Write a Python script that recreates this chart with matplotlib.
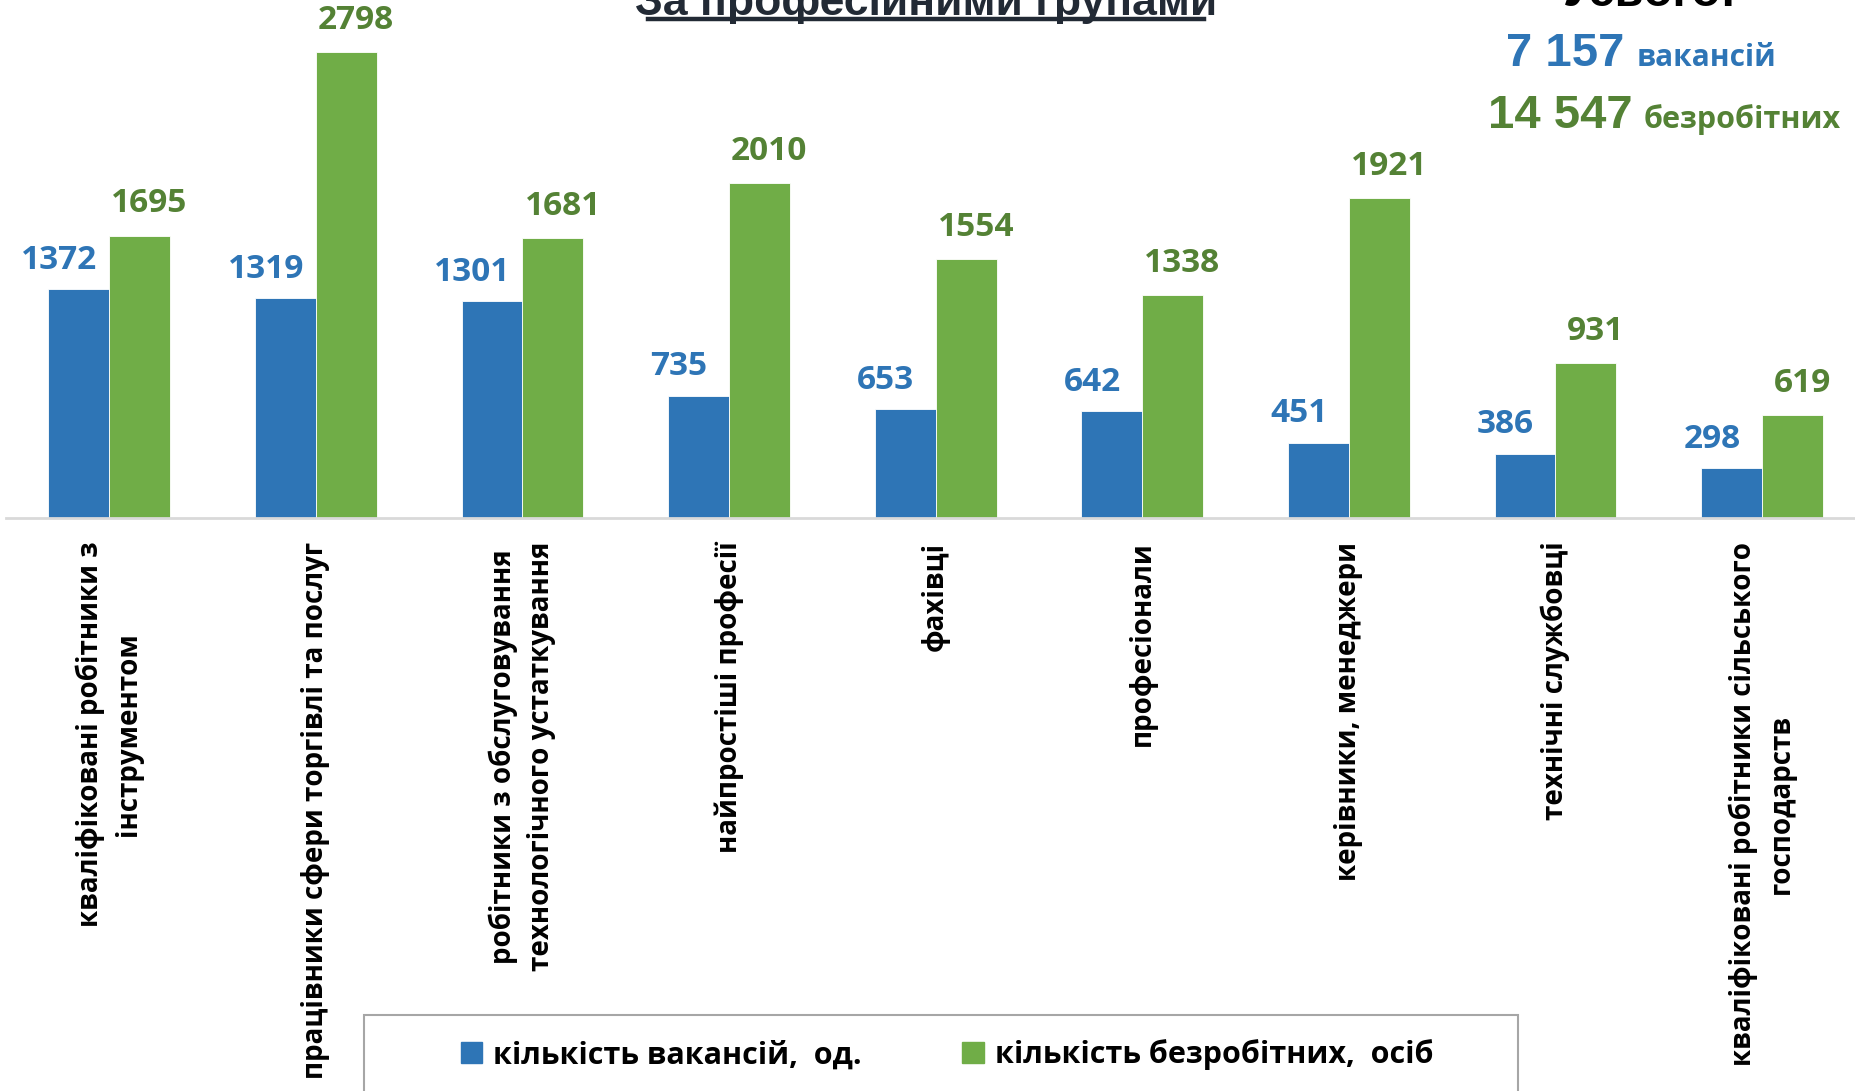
import matplotlib
matplotlib.use("Agg")

import matplotlib.pyplot as plt
from matplotlib.patches import Patch, Rectangle
from matplotlib.lines import Line2D
import numpy as np

# ---------------- data ----------------
categories = [
    "кваліфіковані робітники з\nінструментом",
    "працівники сфери торгівлі та послуг",
    "робітники з обслуговування\nтехнологічного устаткування",
    "найпростіші професії",
    "фахівці",
    "професіонали",
    "керівники, менеджери",
    "технічні службовці",
    "кваліфіковані робітники сільського\nгосподарств",
]
vacancies = [1372, 1319, 1301, 735, 653, 642, 451, 386, 298]
unemployed = [1695, 2798, 1681, 2010, 1554, 1338, 1921, 931, 619]
series_names = ["кількість вакансій,  од.", "кількість безробітних,  осіб"]
title_text = "За професійними групами"
total_head = "Усього:"
total_vacancies = "7 157"
total_unemployed = "14 547"
total_vac_word = "вакансій"
total_unemp_word = "безробітних"

BLUE = "#2E75B6"
GREEN = "#70AD47"
GREEN_TXT = "#548235"
DARK = "#222A35"

W, H = 1855, 1091
FONT = ["Open Sans", "DejaVu Sans"]
ARIAL = ["Liberation Sans", "DejaVu Sans"]


def fx(px):
    return px / W


def fy(py):
    return 1 - py / H


fig = plt.figure(figsize=(W / 100, H / 100), dpi=100)

# ---------------- bars ----------------
ax = fig.add_axes([fx(6), fy(518), 9 * 206.6 / W, 518 / H])
x = np.arange(len(categories))
bw = 0.295
ax.bar(x - bw / 2, vacancies, bw, color=BLUE, edgecolor="white", linewidth=0.6)
ax.bar(x + bw / 2, unemployed, bw, color=GREEN, edgecolor="white", linewidth=0.6)
ax.set_xlim(-0.5, len(categories) - 0.5)
ax.set_ylim(0, 3109)

for xi, v in zip(x, vacancies):
    ax.annotate(str(v), (xi - bw / 2, v), xytext=(-14, 9), textcoords="offset points",
                ha="center", va="bottom", fontsize=24, fontweight="bold",
                color=BLUE, family=FONT)
for xi, v in zip(x, unemployed):
    ax.annotate(str(v), (xi + bw / 2, v), xytext=(7, 11), textcoords="offset points",
                ha="center", va="bottom", fontsize=24, fontweight="bold",
                color=GREEN_TXT, family=FONT)

for s in ["top", "left", "right"]:
    ax.spines[s].set_visible(False)
ax.spines["bottom"].set_color("#D9D9D9")
ax.spines["bottom"].set_linewidth(2)
ax.set_yticks([])
ax.set_xticks(x)
ax.set_xticklabels(categories, rotation=90, ha="center", va="top",
                   multialignment="center", fontsize=20, fontweight="bold",
                   family=FONT, linespacing=1.4)
ax.tick_params(axis="x", length=0, pad=17)

# ---------------- title ----------------
fig.text(fx(926), fy(15), title_text, ha="center", va="baseline",
         fontsize=32, fontweight="bold", color=DARK, family=ARIAL)
fig.add_artist(Line2D([fx(648), fx(1204)], [fy(19), fy(19)],
                      color=DARK, linewidth=3.2, transform=fig.transFigure))

# ---------------- totals ----------------
fig.text(fx(1650), fy(6), total_head, ha="center", va="baseline",
         fontsize=34, fontweight="bold", color="black", family=ARIAL)
fig.text(fx(1624), fy(66), total_vacancies, ha="right", va="baseline",
         fontsize=34, fontweight="bold", color=BLUE, family=ARIAL)
fig.text(fx(1637), fy(66), total_vac_word, ha="left", va="baseline",
         fontsize=21.5, fontweight="bold", color=BLUE, family=FONT)
fig.text(fx(1633), fy(128), total_unemployed, ha="right", va="baseline",
         fontsize=34, fontweight="bold", color=GREEN_TXT, family=ARIAL)
fig.text(fx(1644), fy(128), total_unemp_word, ha="left", va="baseline",
         fontsize=22, fontweight="bold", color=GREEN_TXT, family=FONT)

# ---------------- legend ----------------
fig.add_artist(Rectangle((fx(364), fy(1100)), fx(1518) - fx(364), fy(1015) - fy(1100),
                         transform=fig.transFigure, fill=False,
                         edgecolor="#A6A6A6", linewidth=1.5, clip_on=False))
handles = [Patch(color=BLUE), Patch(color=GREEN)]
fig.legend(handles, series_names, loc="center", bbox_to_anchor=(fx(947), fy(1055)),
           ncol=2, frameon=False, handlelength=0.7, handleheight=0.7,
           handletextpad=0.35, columnspacing=3.3,
           prop={"family": FONT, "weight": "bold", "size": 22})

fig.savefig("out.png", dpi=100)
plt.close(fig)
